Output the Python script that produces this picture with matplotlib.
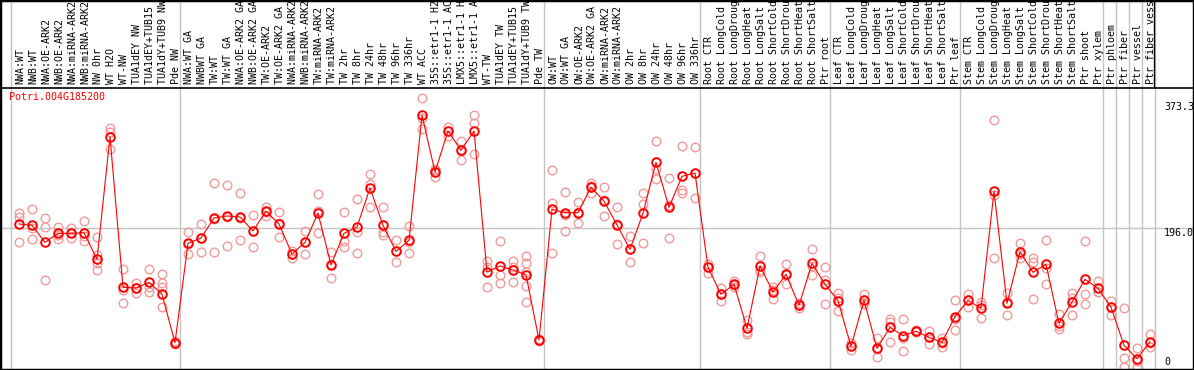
import numpy as np
import matplotlib
matplotlib.use("Agg")
import matplotlib.pyplot as plt
from matplotlib.transforms import blended_transform_factory
from matplotlib.lines import Line2D

# gene shown in the panel
gene = "Potri.004G185200"

# sample names (column order)
samples = [
    "NWA:WT", "NWB:WT", "NWA:OE-ARK2", "NWB:OE-ARK2", "NWA:miRNA-ARK2", "NWB:miRNA-ARK2",
    "NW 0hr", "WT H2O", "WT-NW", "TUA1dEY NW", "TUA1dEY+TUB15 NW", "TUA1dY+TUB9 NW", "Pde NW",
    "NWA:WT GA", "NWBWT GA", "TW:WT", "TW:WT GA", "NWA:OE-ARK2 GA", "NWB:OE-ARK2 GA",
    "TW:OE-ARK2", "TW:OE-ARK2 GA", "NWA:miRNA-ARK2 GA", "NWB:miRNA-ARK2 GA", "TW:miRNA-ARK2",
    "TW:miRNA-ARK2 GA", "TW 2hr", "TW 8hr", "TW 24hr", "TW 48hr", "TW 96hr", "TW 336hr",
    "WT ACC", "35S::etr1-1 H2O", "35S::etr1-1 ACC", "LMX5::etr1-1 H2O", "LMX5::etr1-1 ACC",
    "WT-TW", "TUA1dEY TW", "TUA1dEY+TUB15 TW", "TUA1dY+TUB9 TW", "Pde TW",
    "OW:WT", "OW:WT GA", "OW:OE-ARK2", "OW:OE-ARK2 GA", "OW:miRNA-ARK2", "OW:miRNA-ARK2 GA",
    "OW 2hr", "OW 8hr", "OW 24hr", "OW 48hr", "OW 96hr", "OW 336hr",
    "Root CTR", "Root LongCold", "Root LongDrought", "Root LongHeat", "Root LongSalt",
    "Root ShortCold", "Root ShortDrought", "Root ShortHeat", "Root ShortSalt", "Ptr root",
    "Leaf CTR", "Leaf LongCold", "Leaf LongDrought", "Leaf LongHeat", "Leaf LongSalt",
    "Leaf ShortCold", "Leaf ShortDrought", "Leaf ShortHeat", "Leaf ShortSalt", "Ptr leaf",
    "Stem CTR", "Stem LongCold", "Stem LongDrought", "Stem LongHeat", "Stem LongSalt",
    "Stem ShortCold", "Stem ShortDrought", "Stem ShortHeat", "Stem ShortSalt", "Ptr shoot",
    "Ptr xylem", "Ptr phloem", "Ptr fiber", "Ptr vessel", "Ptr fiber vessel",
]

# mean expression per sample
means = [
    201.7, 199.8, 175.8, 188.5, 188.5, 189.4, 151.9, 324.8, 112.4, 111.4, 119.4, 102.5, 34.3,
    174.4, 181.9, 210.2, 213.0, 211.6, 191.8, 219.6, 201.7, 159.4, 175.8, 217.2, 143.9,
    188.5, 197.5, 252.5, 199.8, 163.1, 178.7, 355.0, 275.0, 332.9, 305.6, 332.9,
    134.0, 142.5, 136.8, 130.2, 38.1,
    222.4, 217.7, 217.7, 253.4, 234.1, 200.3, 166.0, 216.7, 288.7, 225.2, 268.9, 273.6,
    140.6, 102.5, 116.6, 54.5, 142.5, 105.8, 130.7, 87.0, 146.2, 116.6,
    93.6, 29.1, 94.0, 26.3, 55.9, 44.2, 50.3, 41.8, 34.8, 71.0,
    94.0, 82.7, 247.8, 89.8, 162.7, 133.5, 144.8, 61.6, 91.7, 123.6, 110.9,
    84.4, 30.6, 11.8, 35.7,
]

# replicate values per sample
reps = [
    [216.8, 211.1, 176.7], [222.8, 196.5, 180.1], [210.2, 197.0, 122.7], [197.9, 186.6, 181.0],
    [196.5, 188.5, 182.4], [205.5, 184.6, 178.1], [183.8, 158, 146.3, 136.4], [337, 332, 307],
    [138.2, 108.6, 89.8], [118.9, 111, 103.9], [137.8, 113.3, 106.2], [131.2, 118.1, 113.3, 84.2],
    [36, 34, 33],
    [190.0, 174, 159.4], [201.7, 182, 161.7], [259.5, 209.4, 161.7], [256.3, 212, 170.7],
    [245.4, 210.7, 178.7], [214.4, 192, 169.3], [226.1, 219, 213.4], [218.6, 203, 183.4],
    [164.1, 160, 154.2], [191.4, 176, 159.4], [243.5, 219.6, 188.5], [161.7, 145, 125.1],
    [218.6, 177.2, 169.7], [237, 190, 160.3], [271.8, 258.6, 225.7], [225.7, 190.8, 185.7],
    [178.7, 163, 147.7], [198.9, 177, 160.3], [379.4, 350.8, 335.3], [279, 277.4, 268.4],
    [339, 333, 326.2], [319.2, 305, 292.4], [355, 343.7, 300], [149, 140.6, 112.4],
    [177.2, 129.3, 118], [149, 140.6, 119.4], [157, 146.2, 134.5, 114.2, 91.7], [39, 38, 37],
    [277.4, 230.9, 160.3], [246.4, 215, 191.4], [232.3, 218, 202.7], [259.5, 255, 245.8],
    [253.4, 236, 213], [225.2, 202, 173.5], [184.3, 166, 147.7], [245, 229.5, 174.5],
    [318.3, 278.8, 264.7], [266.1, 228.5, 181.5], [311.3, 249.6, 245.8], [309.9, 273, 237.9],
    [145.3, 141.5, 133], [111, 102.5, 92.7], [121.8, 115, 113.3], [66.3, 49.8, 46.5],
    [156.6, 136.8, 134], [112.4, 109, 95.4], [144.8, 130, 117.1], [89.8, 88, 82.7],
    [166, 143, 129.3], [140.6, 122.7, 88.4],
    [103.9, 98, 79], [33.4, 30, 24], [103, 89.8, 89], [40.4, 25, 13.6], [68.2, 63, 35.7],
    [67.2, 40.4, 23], [52, 50, 49], [50.8, 42.6, 32], [41.4, 34, 28.7], [94, 67, 52.2],
    [103, 95, 84.2], [91.2, 88, 68.7], [347.9, 242.1, 153.3], [104.9, 91.6, 72.9],
    [175.4, 159, 153.3], [154.2, 148.6, 95.4], [179.1, 139.2, 116.6], [74.8, 57.8, 53.1],
    [104.9, 96.8, 72.9], [177.2, 102.5, 88.4], [121.3, 106.3, 105.3],
    [93.1, 85, 72.9], [82.7, 12.2, 0], [26.3, 9, 0], [46.5, 33.4, 28.7],
]

# last column index of each group (-1 = left edge)
group_ends = [-1, 12, 40, 52, 62, 72, 83, 84, 85, 86, 87]

ticks = [0, 196.0, 373.3]
tick_labels = ["0", "196.0", "373.3"]

W, H = 1194, 370
top_px, bot_px, zero_px = 88, 369, 367
px_per_unit = 0.709
x0, step = 19, 13

fig = plt.figure(figsize=(W / 100, H / 100), dpi=100)
ax = fig.add_axes([0, (H - bot_px) / H, 1, (bot_px - top_px) / H])
hdr = fig.add_axes([0, (H - top_px) / H, 1, top_px / H])

xlim = (-x0 / step, (W - x0) / step)
for a in (ax, hdr):
    a.set_xlim(*xlim)
    a.axis("off")
ax.set_ylim(-(bot_px - zero_px) / px_per_unit, (zero_px - top_px) / px_per_unit)
hdr.set_ylim(0, 1)

mono = "DejaVu Sans Mono"
fs = 7.2
grey = "#c4c4c4"

# group separators
for g in group_ends:
    ax.axvline(g + 0.385, color=grey, lw=1, zorder=1)
    hdr.axvline(g + 0.385, color=grey, lw=1, zorder=1)
hdr.axvline(group_ends[-1] + 0.33, color="black", lw=1, zorder=2)

ax.axhline(ticks[1], color=grey, lw=1, zorder=1)

# replicates
for i, r in enumerate(reps):
    ax.plot([i] * len(r), r, "o", mfc="none", mec="#f29a9a", ms=6.2, mew=1.0, zorder=2)

# means
x = np.arange(len(samples))
ax.plot(x, means, "-", color="red", lw=0.8, zorder=3)
ax.plot(x, means, "o", mfc="none", mec="red", ms=6.2, mew=1.4, zorder=4)

# sample labels in header (clipped at the top like the original)
tr = blended_transform_factory(hdr.transData, hdr.transAxes)
for i, s in enumerate(samples):
    hdr.text(i + 1 / step, 4 / top_px, s, rotation=90, ha="center", va="bottom",
             family=mono, fontsize=fs, transform=tr, clip_on=True)

# y tick labels on the right
ttr = blended_transform_factory(fig.transFigure, ax.transData)
for v, lab in zip(ticks, tick_labels):
    ax.text(1164 / W, v, lab, ha="left", va="bottom" if v == 0 else "top",
            family=mono, fontsize=fs, transform=ttr)

fig.text(9 / W, 1 - 92 / H, gene, color="red", family=mono, fontsize=fs, va="top", ha="left")

# frame and header line
fig.add_artist(Line2D([0, 1], [(H - top_px) / H] * 2, color="black", lw=1.2, transform=fig.transFigure))
fig.add_artist(plt.Rectangle((0, 0), 1, 1, transform=fig.transFigure, fill=False, ec="black", lw=2.5))

fig.savefig("out.png", dpi=100)
